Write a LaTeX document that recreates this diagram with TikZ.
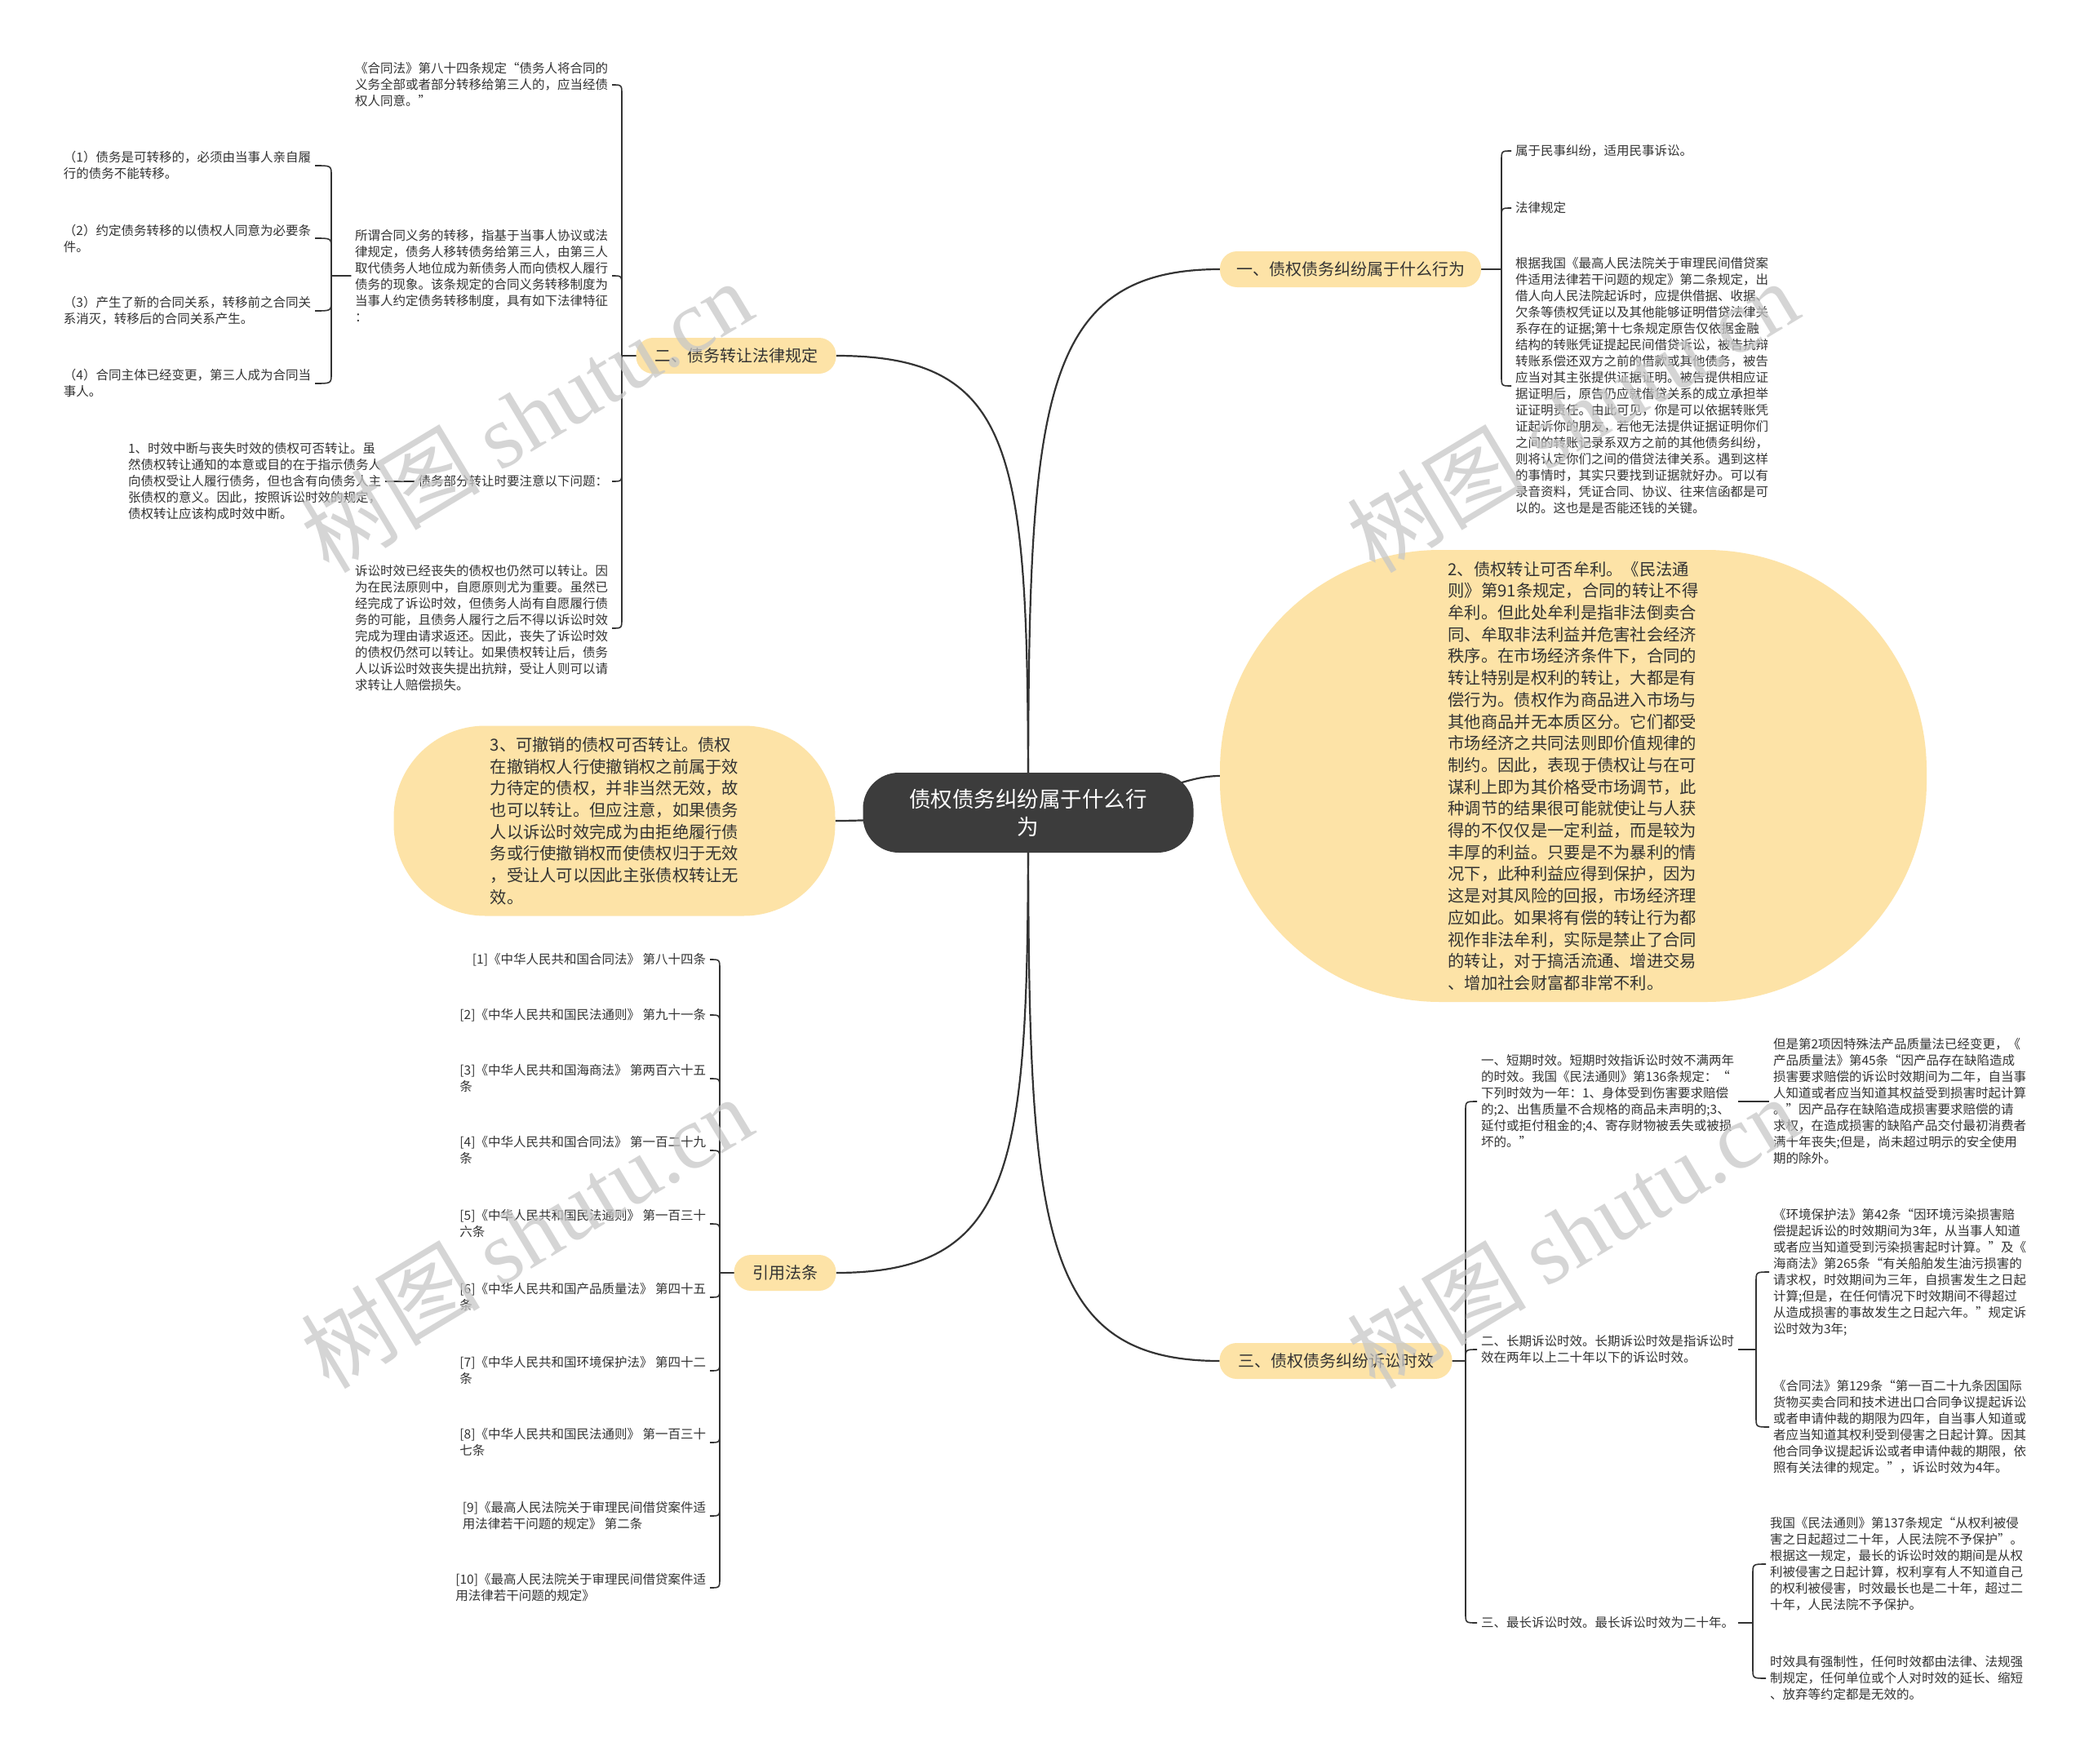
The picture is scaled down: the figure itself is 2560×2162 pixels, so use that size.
\documentclass[tikz,border=0pt]{standalone}
\usepackage{fontspec}
\setmainfont{Noto Sans CJK SC}
\newfontfamily\wmserif{Liberation Serif}
\usetikzlibrary{calc}
\pgfdeclarelayer{back}
\pgfsetlayers{back,main}
\definecolor{pillc}{HTML}{FDE3A7}
\definecolor{corec}{HTML}{3C3C3C}
\definecolor{linec}{HTML}{333333}
\definecolor{txtc}{HTML}{333333}
\tikzset{
 txt/.style={inner xsep=5pt, inner ysep=0pt, outer sep=0pt, align=left, text=txtc, font=\fontsize{15.5}{20}\selectfont},
 pillnode/.style={fill=pillc, rounded corners=21pt, minimum height=44pt, inner sep=0pt, outer sep=0pt, text=txtc, font=\fontsize{20}{24}\selectfont},
 bigpill/.style={fill=pillc, inner sep=0pt, outer sep=0pt, align=left, text=txtc, font=\fontsize{20.3}{26.7}\selectfont},
 corenode/.style={fill=corec, rounded corners=44pt, minimum width=405pt, minimum height=98pt, inner sep=0pt, outer sep=0pt, align=center, text=white, font=\fontsize{26.5}{34}\selectfont},
 conn/.style={draw=linec, line width=2.2pt},
 brk/.style={draw=linec, line width=1.6pt},
 wm/.style={rotate=31, text=black!22, text opacity=0.75, inner sep=0pt}
}
\begin{document}
\begin{tikzpicture}[x=1pt,y=-1pt]
\useasboundingbox (0,0) rectangle (2560,2162);

% ---------- main nodes ----------
\node[corenode] (core) at (1260,996) {债权债务纠纷属于什么行\\为};
\node[pillnode, minimum width=320pt] (n1) at (1655,330) {一、债权债务纠纷属于什么行为};
\node[pillnode, minimum width=245pt] (n2) at (902,436) {二、债务转让法律规定};
\node[bigpill, rounded corners=112pt, minimum width=541pt, minimum height=233pt] (n3) at (753,1006) {3、可撤销的债权可否转让。债权\\在撤销权人行使撤销权之前属于效\\力待定的债权，并非当然无效，故\\也可以转让。但应注意，如果债务\\人以诉讼时效完成为由拒绝履行债\\务或行使撤销权而使债权归于无效\\，受让人可以因此主张债权转让无\\效。};
\node[bigpill, rounded corners=270pt, minimum width=866pt, minimum height=554pt] (n4) at (1928,951) {2、债权转让可否牟利。《民法通\\则》第91条规定，合同的转让不得\\牟利。但此处牟利是指非法倒卖合\\同、牟取非法利益并危害社会经济\\秩序。在市场经济条件下，合同的\\转让特别是权利的转让，大都是有\\偿行为。债权作为商品进入市场与\\其他商品并无本质区分。它们都受\\市场经济之共同法则即价值规律的\\制约。因此，表现于债权让与在可\\谋利上即为其价格受市场调节，此\\种调节的结果很可能就使让与人获\\得的不仅仅是一定利益，而是较为\\丰厚的利益。只要是不为暴利的情\\况下，此种利益应得到保护，因为\\这是对其风险的回报，市场经济理\\应如此。如果将有偿的转让行为都\\视作非法牟利，实际是禁止了合同\\的转让，对于搞活流通、增进交易\\、增加社会财富都非常不利。};
\node[pillnode, minimum width=125pt] (n5) at (962,1560) {引用法条};
\node[pillnode, minimum width=285pt] (n6) at (1637,1668) {三、债权债务纠纷诉讼时效};

% ---------- group 1 ----------
\node[txt, anchor=west] (c11) at (1852,185) {属于民事纠纷，适用民事诉讼。};
\node[txt, anchor=west] (c12) at (1852,255) {法律规定};
\node[txt, anchor=west] (c13) at (1852,473) {根据我国《最高人民法院关于审理民间借贷案\\件适用法律若干问题的规定》第二条规定，出\\借人向人民法院起诉时，应提供借据、收据、\\欠条等债权凭证以及其他能够证明借贷法律关\\系存在的证据;第十七条规定原告仅依据金融\\结构的转账凭证提起民间借贷诉讼，被告抗辩\\转账系偿还双方之前的借款或其他债务，被告\\应当对其主张提供证据证明。被告提供相应证\\据证明后，原告仍应就借贷关系的成立承担举\\证证明责任。由此可见，你是可以依据转账凭\\证起诉你的朋友，若他无法提供证据证明你们\\之间的转账记录系双方之前的其他债务纠纷，\\则将认定你们之间的借贷法律关系。遇到这样\\的事情时，其实只要找到证据就好办。可以有\\录音资料，凭证合同、协议、往来信函都是可\\以的。这也是是否能还钱的关键。};

% ---------- group 2 ----------
\node[txt, anchor=east] (c21) at (750,104) {《合同法》第八十四条规定“债务人将合同的\\义务全部或者部分转移给第三人的，应当经债\\权人同意。”};
\node[txt, anchor=east] (c22) at (750,338) {所谓合同义务的转移，指基于当事人协议或法\\律规定，债务人移转债务给第三人，由第三人\\取代债务人地位成为新债务人而向债权人履行\\债务的现象。该条规定的合同义务转移制度为\\当事人约定债务转移制度，具有如下法律特征\\：};
\node[txt, anchor=east] (c23) at (750,590) {债务部分转让时要注意以下问题：};
\node[txt, anchor=east] (c24) at (750,770) {诉讼时效已经丧失的债权也仍然可以转让。因\\为在民法原则中，自愿原则尤为重要。虽然已\\经完成了诉讼时效，但债务人尚有自愿履行债\\务的可能，且债务人履行之后不得以诉讼时效\\完成为理由请求返还。因此，丧失了诉讼时效\\的债权仍然可以转让。如果债权转让后，债务\\人以诉讼时效丧失提出抗辩，受让人则可以请\\求转让人赔偿损失。};
\node[txt, anchor=east] (d1) at (386,203) {（1）债务是可转移的，必须由当事人亲自履\\行的债务不能转移。};
\node[txt, anchor=east] (d2) at (386,292) {（2）约定债务转移的以债权人同意为必要条\\件。};
\node[txt, anchor=east] (d3) at (386,381) {（3）产生了新的合同关系，转移前之合同关\\系消灭，转移后的合同关系产生。};
\node[txt, anchor=east] (d4) at (386,470) {（4）合同主体已经变更，第三人成为合同当\\事人。};
\node[txt, anchor=east] (e1) at (472,590) {1、时效中断与丧失时效的债权可否转让。虽\\然债权转让通知的本意或目的在于指示债务人\\向债权受让人履行债务，但也含有向债务人主\\张债权的意义。因此，按照诉讼时效的规定，\\债权转让应该构成时效中断。};

% ---------- group 3 ----------
\node[txt, anchor=west] (f1) at (1810,1350) {一、短期时效。短期时效指诉讼时效不满两年\\的时效。我国《民法通则》第136条规定：“\\下列时效为一年：1、身体受到伤害要求赔偿\\的;2、出售质量不合规格的商品未声明的;3、\\延付或拒付租金的;4、寄存财物被丢失或被损\\坏的。”};
\node[txt, anchor=west] (f2) at (1810,1654) {二、长期诉讼时效。长期诉讼时效是指诉讼时\\效在两年以上二十年以下的诉讼时效。};
\node[txt, anchor=west] (f3) at (1810,1989) {三、最长诉讼时效。最长诉讼时效为二十年。};
\node[txt, anchor=west] (g1) at (2168,1350) {但是第2项因特殊法产品质量法已经变更，《\\产品质量法》第45条“因产品存在缺陷造成\\损害要求赔偿的诉讼时效期间为二年，自当事\\人知道或者应当知道其权益受到损害时起计算\\。”因产品存在缺陷造成损害要求赔偿的请\\求权，在造成损害的缺陷产品交付最初消费者\\满十年丧失;但是，尚未超过明示的安全使用\\期的除外。};
\node[txt, anchor=west] (h1) at (2168,1559) {《环境保护法》第42条“因环境污染损害赔\\偿提起诉讼的时效期间为3年，从当事人知道\\或者应当知道受到污染损害起时计算。”及《\\海商法》第265条“有关船舶发生油污损害的\\请求权，时效期间为三年，自损害发生之日起\\计算;但是，在任何情况下时效期间不得超过\\从造成损害的事故发生之日起六年。”规定诉\\讼时效为3年;};
\node[txt, anchor=west] (h2) at (2168,1749) {《合同法》第129条“第一百二十九条因国际\\货物买卖合同和技术进出口合同争议提起诉讼\\或者申请仲裁的期限为四年，自当事人知道或\\者应当知道其权利受到侵害之日起计算。因其\\他合同争议提起诉讼或者申请仲裁的期限，依\\照有关法律的规定。”，诉讼时效为4年。};
\node[txt, anchor=west] (k1) at (2164,1917) {我国《民法通则》第137条规定“从权利被侵\\害之日起超过二十年，人民法院不予保护”。\\根据这一规定，最长的诉讼时效的期间是从权\\利被侵害之日起计算，权利享有人不知道自己\\的权利被侵害，时效最长也是二十年，超过二\\十年，人民法院不予保护。};
\node[txt, anchor=west] (k2) at (2164,2057) {时效具有强制性，任何时效都由法律、法规强\\制规定，任何单位或个人对时效的延长、缩短\\、放弃等约定都是无效的。};

% ---------- group 5 (references) ----------
\node[txt, anchor=east] (r1) at (870,1176) {[1]《中华人民共和国合同法》 第八十四条};
\node[txt, anchor=east] (r2) at (870,1244) {[2]《中华人民共和国民法通则》 第九十一条};
\node[txt, anchor=east] (r3) at (870,1322) {[3]《中华人民共和国海商法》 第两百六十五\\条};
\node[txt, anchor=east] (r4) at (870,1410) {[4]《中华人民共和国合同法》 第一百二十九\\条};
\node[txt, anchor=east] (r5) at (870,1500) {[5]《中华人民共和国民法通则》 第一百三十\\六条};
\node[txt, anchor=east] (r6) at (870,1590) {[6]《中华人民共和国产品质量法》 第四十五\\条};
\node[txt, anchor=east] (r7) at (870,1680) {[7]《中华人民共和国环境保护法》 第四十二\\条};
\node[txt, anchor=east] (r8) at (870,1768) {[8]《中华人民共和国民法通则》 第一百三十\\七条};
\node[txt, anchor=east] (r9) at (870,1858) {[9]《最高人民法院关于审理民间借贷案件适\\用法律若干问题的规定》 第二条};
\node[txt, anchor=east] (r10) at (870,1946) {[10]《最高人民法院关于审理民间借贷案件适\\用法律若干问题的规定》};

% ---------- connectors (behind) ----------
\begin{pgfonlayer}{back}
\fill[white] (0,0) rectangle (2560,2162);
\draw[conn] (core.center) .. controls (1260,500) and (1270,330) .. (n1.west);
\draw[conn] (core.center) .. controls (1260,560) and (1250,436) .. (n2.east);
\draw[conn] (core.center) .. controls (1260,1420) and (1250,1560) .. (n5.east);
\draw[conn] (core.center) .. controls (1260,1500) and (1270,1668) .. (n6.west);
\draw[conn] (core.center) .. controls (1400,990) and (1440,951) .. (n4.west);
\draw[conn] (core.center) .. controls (1150,1000) and (1080,1006) .. (n3.east);

% group 1
\draw[brk] (n1.east) -- (1840,330) -- (1840,197) .. controls (1840,185) .. (c11.west);
\draw[brk] (n1.east) -- (1840,330) -- (1840,267) .. controls (1840,255) .. (c12.west);
\draw[brk] (n1.east) -- (1840,330) -- (1840,461) .. controls (1840,473) .. (c13.west);
% group 2
\draw[brk] (n2.west) -- (762,436) -- (762,116) .. controls (762,104) .. (c21.east);
\draw[brk] (n2.west) -- (762,436) -- (762,350) .. controls (762,338) .. (c22.east);
\draw[brk] (n2.west) -- (762,436) -- (762,578) .. controls (762,590) .. (c23.east);
\draw[brk] (n2.west) -- (762,436) -- (762,758) .. controls (762,770) .. (c24.east);
\draw[brk] (c22.west) -- (406,338) -- (406,215) .. controls (406,203) .. (d1.east);
\draw[brk] (c22.west) -- (406,338) -- (406,304) .. controls (406,292) .. (d2.east);
\draw[brk] (c22.west) -- (406,338) -- (406,369) .. controls (406,381) .. (d3.east);
\draw[brk] (c22.west) -- (406,338) -- (406,458) .. controls (406,470) .. (d4.east);
\draw[brk] (c23.west) -- (e1.east);
% group 3
\draw[brk] (n6.east) -- (1796,1668) -- (1796,1362) .. controls (1796,1350) .. (f1.west);
\draw[brk] (n6.east) -- (1796,1668) -- (1796,1666) .. controls (1796,1654) .. (f2.west);
\draw[brk] (n6.east) -- (1796,1668) -- (1796,1977) .. controls (1796,1989) .. (f3.west);
\draw[brk] (f1.east) -- (g1.west);
\draw[brk] (f2.east) -- (2152,1654) -- (2152,1571) .. controls (2152,1559) .. (h1.west);
\draw[brk] (f2.east) -- (2152,1654) -- (2152,1737) .. controls (2152,1749) .. (h2.west);
\draw[brk] (f3.east) -- (2148,1989) -- (2148,1929) .. controls (2148,1917) .. (k1.west);
\draw[brk] (f3.east) -- (2148,1989) -- (2148,2045) .. controls (2148,2057) .. (k2.west);
% group 5
\draw[brk] (n5.west) -- (882,1560) -- (882,1188) .. controls (882,1176) .. (r1.east);
\draw[brk] (n5.west) -- (882,1560) -- (882,1256) .. controls (882,1244) .. (r2.east);
\draw[brk] (n5.west) -- (882,1560) -- (882,1334) .. controls (882,1322) .. (r3.east);
\draw[brk] (n5.west) -- (882,1560) -- (882,1422) .. controls (882,1410) .. (r4.east);
\draw[brk] (n5.west) -- (882,1560) -- (882,1512) .. controls (882,1500) .. (r5.east);
\draw[brk] (n5.west) -- (882,1560) -- (882,1578) .. controls (882,1590) .. (r6.east);
\draw[brk] (n5.west) -- (882,1560) -- (882,1668) .. controls (882,1680) .. (r7.east);
\draw[brk] (n5.west) -- (882,1560) -- (882,1756) .. controls (882,1768) .. (r8.east);
\draw[brk] (n5.west) -- (882,1560) -- (882,1846) .. controls (882,1858) .. (r9.east);
\draw[brk] (n5.west) -- (882,1560) -- (882,1934) .. controls (882,1946) .. (r10.east);
\end{pgfonlayer}

% ---------- watermarks ----------
\node[wm] (w1) at (645,510) {\fontsize{110}{110}\selectfont 树图 {\wmserif shutu.cn}};
\node[wm] (w2) at (1927,510) {\fontsize{110}{110}\selectfont 树图 {\wmserif shutu.cn}};
\node[wm] (w3) at (645,1510) {\fontsize{110}{110}\selectfont 树图 {\wmserif shutu.cn}};
\node[wm] (w4) at (1927,1510) {\fontsize{110}{110}\selectfont 树图 {\wmserif shutu.cn}};
\end{tikzpicture}
\end{document}
